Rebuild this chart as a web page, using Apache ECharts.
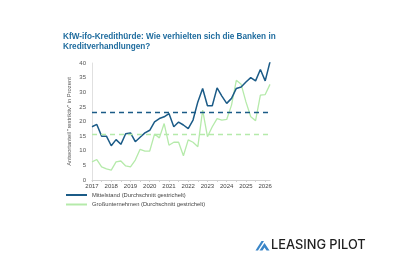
<!DOCTYPE html>
<html>
<head>
<meta charset="utf-8">
<script src="https://cdn.jsdelivr.net/npm/echarts@6/dist/echarts.min.js"></script>
<style>
html, body { margin: 0; padding: 0; background: #fff; }
#app { width: 400px; height: 267px; }
</style>
</head>
<body>
<div id="app"></div>
<script>
// Quartale 2017 Q1 .. 2026 Q2
const years = ['2017', '2018', '2019', '2020', '2021', '2022', '2023', '2024', '2025', '2026'];
const quarters = [];
years.forEach(y => {
	['Q1', 'Q2', 'Q3', 'Q4'].forEach(q => quarters.push(y + ' ' + q));
});
quarters.length = 38;

// Anteil "restriktiv" in Prozent
const mittelstand = [
	18.2, 19.0, 15.0, 15.0, 11.7, 13.8, 12.2, 15.8, 16.1, 13.1,
	14.6, 16.1, 17.0, 19.9, 21.0, 21.6, 22.7, 18.2, 19.8, 18.8,
	17.6, 20.5, 26.7, 31.3, 25.4, 25.4, 31.5, 28.7, 26.2, 27.9,
	31.3, 31.8, 33.5, 35.0, 33.9, 37.8, 33.9, 40.4
];
const grossunternehmen = [
	6.2, 7.0, 4.5, 3.8, 3.4, 6.2, 6.5, 4.8, 4.5, 6.8,
	10.5, 9.9, 9.9, 15.7, 14.4, 19.3, 11.9, 12.9, 12.9, 8.3,
	13.7, 12.9, 11.4, 23.9, 14.8, 18.2, 21.0, 20.5, 20.7, 25.6,
	34.1, 32.7, 26.7, 21.6, 20.3, 29.0, 29.2, 32.7
];

const blue = '#1b5b87';
const green = '#b5eaaa';

let chart = echarts.init(document.getElementById('app'), null, { renderer: 'canvas' });

let option = {
	backgroundColor: '#fff',
	animation: false,
	title: {
		text: 'KfW-ifo-Kredithürde: Wie verhielten sich die Banken in\nKreditverhandlungen?',
		left: 58,
		top: 27,
		textStyle: {
			fontFamily: 'Liberation Sans',
			fontSize: 8.2,
			fontWeight: 'bold',
			color: '#1f6c9e',
			lineHeight: 9.6
		}
	},
	grid: {
		left: 92,
		right: 130,
		top: 63,
		bottom: 87
	},
	legend: {
		orient: 'vertical',
		left: 61,
		top: 186,
		itemWidth: 21,
		itemHeight: 2,
		itemGap: 1.5,
		icon: 'rect',
		textStyle: {
			fontFamily: 'Liberation Sans',
			fontSize: 5.8,
			color: '#444',
			lineHeight: 8
		},
		data: ['Mittelstand (Durchschnitt gestrichelt)', 'Großunternehmen (Durchschnitt gestrichelt)']
	},
	xAxis: {
		type: 'category',
		data: quarters,
		boundaryGap: false,
		axisLine: { lineStyle: { color: '#d0d0d0', width: 1 } },
		axisTick: { show: true, interval: 1, length: 2, lineStyle: { color: '#d0d0d0' } },
		axisLabel: {
			interval: 3,
			margin: 3,
			fontFamily: 'Liberation Sans',
			fontSize: 6,
			color: '#444',
			formatter: v => v.slice(0, 4)
		},
		splitLine: { show: false }
	},
	yAxis: {
		type: 'value',
		min: 0,
		max: 40,
		interval: 5,
		name: 'Antwortanteil "restriktiv" in Prozent',
		nameLocation: 'middle',
		nameGap: 20,
		nameTextStyle: {
			fontFamily: 'Liberation Sans',
			fontSize: 5.8,
			color: '#555'
		},
		axisLine: { show: true, lineStyle: { color: '#e0e0e0' } },
		axisTick: { show: false },
		axisLabel: {
			margin: 6,
			fontFamily: 'Liberation Sans',
			fontSize: 6,
			color: '#555'
		},
		splitLine: { show: false }
	},
	series: [{
		name: 'Mittelstand (Durchschnitt gestrichelt)',
		type: 'line',
		data: mittelstand,
		symbol: 'none',
		z: 3,
		color: blue,
		lineStyle: { color: blue, width: 1.5 },
		markLine: {
			silent: true,
			symbol: 'none',
			label: { show: false },
			lineStyle: { color: blue, type: [5, 4], width: 1.4 },
			data: [{ type: 'average' }]
		}
	}, {
		name: 'Großunternehmen (Durchschnitt gestrichelt)',
		type: 'line',
		data: grossunternehmen,
		symbol: 'none',
		z: 2,
		color: green,
		lineStyle: { color: green, width: 1.3 },
		markLine: {
			silent: true,
			symbol: 'none',
			label: { show: false },
			lineStyle: { color: green, type: [5, 4], width: 1.3 },
			data: [{ type: 'average' }]
		}
	}],
	graphic: [{
		// Logo-Zeichen
		type: 'polygon',
		shape: { points: [[255.5, 250.5], [261.5, 241], [264, 241], [258, 250.5]] },
		style: { fill: '#3a86c8' }
	}, {
		type: 'polygon',
		shape: { points: [[259.5, 250.5], [264.5, 243], [269.5, 250.5], [266.5, 250.5], [264.5, 247.5], [262.5, 250.5]] },
		style: { fill: '#3a86c8' }
	}, {
		type: 'text',
		left: 271,
		top: 238.5,
		style: {
			text: 'LEASING PILOT',
			fontFamily: 'Inter',
			fontSize: 12.8,
			fontWeight: 500,
			fill: '#1e1e1e'
		}
	}]
};

chart.setOption(option);
</script>
</body>
</html>
